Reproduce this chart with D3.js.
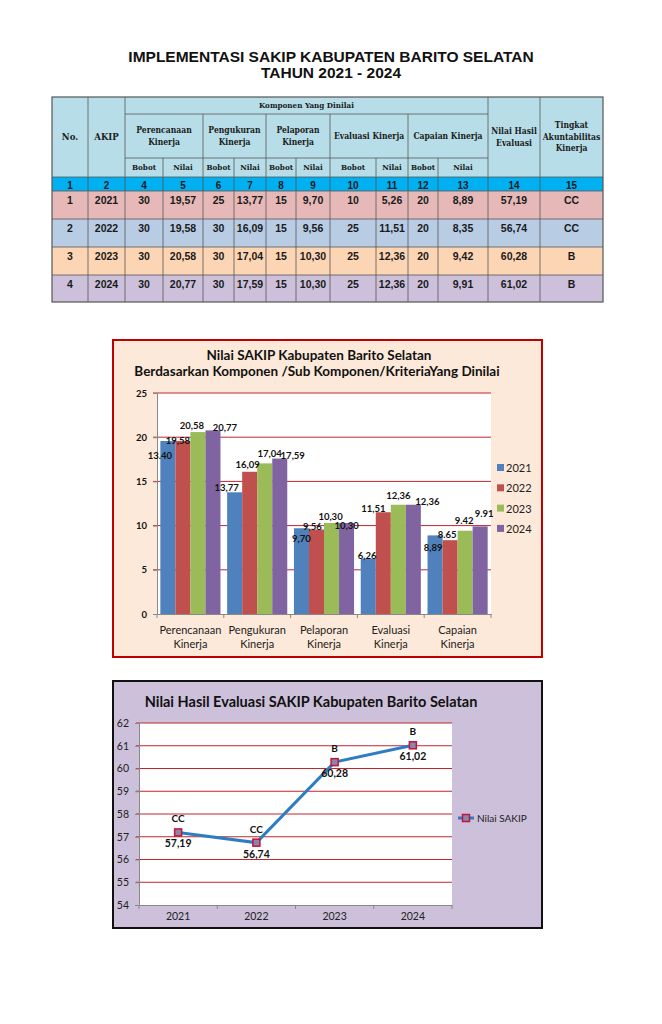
<!DOCTYPE html>
<html>
<head>
<meta charset="utf-8">
<script src="https://cdn.jsdelivr.net/npm/d3@7"></script>
<style>
  body { margin: 0; background: #fff; }
  svg { display: block; }
</style>
</head>
<body>
<div id="chart"></div>
<script>
// ---- data ----
const years = ["2021", "2022", "2023", "2024"];
const components = ["Perencanaan Kinerja", "Pengukuran Kinerja", "Pelaporan Kinerja", "Evaluasi Kinerja", "Capaian Kinerja"];
const bobot = [[30, 25, 15, 10, 20], [30, 30, 15, 25, 20], [30, 30, 15, 25, 20], [30, 30, 15, 25, 20]];
const nilai = [["19,57", "13,77", "9,70", "5,26", "8,89"], ["19,58", "16,09", "9,56", "11,51", "8,35"],
               ["20,58", "17,04", "10,30", "12,36", "9,42"], ["20,77", "17,59", "10,30", "12,36", "9,91"]];
const nilaiHasilText = ["57,19", "56,74", "60,28", "61,02"];
const tingkat = ["CC", "CC", "B", "B"];
const colIndex = ["1", "2", "4", "5", "6", "7", "8", "9", "10", "11", "12", "13", "14", "15"];

// bar chart series (one per year, values per component)
const bar2021 = [19.57, 13.77, 9.70, 6.26, 8.89];
const bar2022 = [19.58, 16.09, 9.56, 11.51, 8.35];
const bar2023 = [20.58, 17.04, 10.30, 12.36, 9.42];
const bar2024 = [20.77, 17.59, 10.30, 12.36, 9.91];
const barLabels2021 = ["13.40", "13,77", "9,70", "6,26", "8,89"];
const barLabels2022 = ["19,58", "16,09", "9,56", "11,51", "8.65"];
const barLabels2023 = ["20,58", "17,04", "10,30", "12,36", "9.42"];
const barLabels2024 = ["20,77", "17,59", "10,30", "12,36", "9.91"];
const barTicks = [0, 5, 10, 15, 20, 25];

// line chart
const nilaiSakip = [57.19, 56.74, 60.28, 61.02];
const lineTicks = [54, 55, 56, 57, 58, 59, 60, 61, 62];

const seriesColors = ["#4f81bd", "#c0504d", "#9bbb59", "#8064a2"];
const font = "Lato, 'Open Sans', sans-serif";

const svg = d3.select("#chart").append("svg").attr("width", 662).attr("height", 1024);
svg.append("rect").attr("width", 662).attr("height", 1024).attr("fill", "#fff");

// ---- title ----
const title = svg.append("text").attr("text-anchor", "middle").attr("font-family", "'Liberation Sans', Arial, sans-serif")
  .attr("font-weight", 700).attr("font-size", 15.5).attr("fill", "#111");
title.append("tspan").attr("x", 331).attr("y", 62).text("IMPLEMENTASI SAKIP KABUPATEN BARITO SELATAN");
title.append("tspan").attr("x", 331).attr("y", 78).text("TAHUN 2021 - 2024");

// ---- table ----
const colX = [52, 88, 125, 163, 203, 234, 266, 296, 330, 376, 408, 438, 488, 540, 603];
const rowY = [97, 114, 158, 177, 191, 219, 247, 275, 302];
const rowFills = ["#e6b9b8", "#b8cce4", "#fcd5b4", "#ccc0da"];
const headFont = "'DejaVu Serif Condensed', 'DejaVu Serif', serif";
const numFont = "'Liberation Sans Narrow', 'Liberation Sans', sans-serif";
const tbl = svg.append("g");

// header background
tbl.append("rect").attr("x", colX[0]).attr("y", rowY[0]).attr("width", colX[14] - colX[0]).attr("height", rowY[3] - rowY[0]).attr("fill", "#b7dee8");
tbl.append("rect").attr("x", colX[0]).attr("y", rowY[3]).attr("width", colX[14] - colX[0]).attr("height", rowY[4] - rowY[3]).attr("fill", "#00b0f0");
tbl.selectAll("rect.row").data(years).join("rect").attr("class", "row")
  .attr("x", colX[0]).attr("y", (d, i) => rowY[4 + i]).attr("width", colX[14] - colX[0])
  .attr("height", (d, i) => rowY[5 + i] - rowY[4 + i]).attr("fill", (d, i) => rowFills[i]);

const line = (x1, y1, x2, y2) => tbl.append("line").attr("x1", x1).attr("y1", y1).attr("x2", x2).attr("y2", y2)
  .attr("stroke", "#555").attr("stroke-width", 0.8);
// horizontal lines
line(colX[2], rowY[1], colX[12], rowY[1]);
line(colX[2], rowY[2], colX[12], rowY[2]);
for (let r = 3; r < 8; r++) line(colX[0], rowY[r], colX[14], rowY[r]);
// vertical lines
[1, 2, 12, 13].forEach(c => line(colX[c], rowY[0], colX[c], rowY[8]));
[4, 6, 8, 10].forEach(c => line(colX[c], rowY[1], colX[c], rowY[8]));
[3, 5, 7, 9, 11].forEach(c => line(colX[c], rowY[2], colX[c], rowY[8]));
tbl.append("rect").attr("x", colX[0]).attr("y", rowY[0]).attr("width", colX[14] - colX[0]).attr("height", rowY[8] - rowY[0])
  .attr("fill", "none").attr("stroke", "#555").attr("stroke-width", 1.2);

function cellText(lines, cx, cy, family, size) {
  const t = tbl.append("text").attr("text-anchor", "middle").attr("font-family", family)
    .attr("font-weight", 700).attr("font-size", size).attr("fill", "#1a1a1a");
  const lh = size + 3;
  lines.forEach((s, k) => t.append("tspan").attr("x", cx).attr("y", cy + (k - (lines.length - 1) / 2) * lh + size * 0.35).text(s));
}
const mid = (a, b) => (a + b) / 2;
cellText(["No."], mid(colX[0], colX[1]), mid(rowY[0], rowY[3]), headFont, 9.5);
cellText(["AKIP"], mid(colX[1], colX[2]), mid(rowY[0], rowY[3]), headFont, 9.5);
cellText(["Komponen Yang Dinilai"], mid(colX[2], colX[12]), mid(rowY[0], rowY[1]), headFont, 8);
components.forEach((c, i) => {
  const a = colX[2 + 2 * i], b = colX[4 + 2 * i];
  const parts = i >= 3 ? [c] : c.split(" ");
  cellText(parts, mid(a, b), mid(rowY[1], rowY[2]), headFont, 8.5);
  cellText(["Bobot"], mid(a, colX[3 + 2 * i]), mid(rowY[2], rowY[3]), headFont, 8);
  cellText(["Nilai"], mid(colX[3 + 2 * i], b), mid(rowY[2], rowY[3]), headFont, 8);
});
cellText(["Nilai Hasil", "Evaluasi"], mid(colX[12], colX[13]), mid(rowY[0], rowY[3]), headFont, 8.5);
cellText(["Tingkat", "Akuntabilitas", "Kinerja"], mid(colX[13], colX[14]), mid(rowY[0], rowY[3]), headFont, 8.5);
colIndex.forEach((s, c) => cellText([s], mid(colX[c], colX[c + 1]), mid(rowY[3], rowY[4]) + 1, numFont, 10));
years.forEach((y, r) => {
  const cy = rowY[4 + r] + 9;
  const vals = [String(r + 1), y];
  components.forEach((c, i) => { vals.push(String(bobot[r][i])); vals.push(nilai[r][i]); });
  vals.push(nilaiHasilText[r]); vals.push(tingkat[r]);
  vals.forEach((s, c) => cellText([s], mid(colX[c], colX[c + 1]), cy, numFont, 10.5));
});

// ---- bar chart ----
const bc = svg.append("g");
bc.append("rect").attr("x", 113).attr("y", 340).attr("width", 429).attr("height", 317)
  .attr("fill", "#fde9d9").attr("stroke", "#c00000").attr("stroke-width", 2);
const bTitle = bc.append("text").attr("text-anchor", "middle").attr("font-family", font).attr("font-weight", 700)
  .attr("font-size", 13.5).attr("fill", "#111");
bTitle.append("tspan").attr("x", 319).attr("y", 360).text("Nilai SAKIP Kabupaten Barito Selatan");
bTitle.append("tspan").attr("x", 317).attr("y", 376).text("Berdasarkan Komponen /Sub Komponen/KriteriaYang Dinilai");

const bx0 = 157, bx1 = 491, by0 = 614, by1 = 393;
const y = d3.scaleLinear().domain([0, 25]).range([by0, by1]);
const x0 = d3.scaleBand().domain(components).range([bx0, bx1]).paddingInner(0.1).paddingOuter(0.05);
const x1 = d3.scaleBand().domain(years).range([0, x0.bandwidth()]);
bc.append("rect").attr("x", bx0).attr("y", by1).attr("width", bx1 - bx0).attr("height", by0 - by1).attr("fill", "#fff");
bc.selectAll("line.grid").data(barTicks.filter(t => t > 0)).join("line").attr("class", "grid")
  .attr("x1", bx0 - 4).attr("x2", bx1).attr("y1", d => y(d)).attr("y2", d => y(d))
  .attr("stroke", "#c0262c").attr("stroke-width", 1);

const barSeries = [bar2021, bar2022, bar2023, bar2024];
const barLabelSeries = [barLabels2021, barLabels2022, barLabels2023, barLabels2024];
const bars = [];
components.forEach((c, i) => years.forEach((yr, j) => bars.push({ c, yr, j, i, v: barSeries[j][i], label: barLabelSeries[j][i] })));
bc.selectAll("rect.bar").data(bars).join("rect").attr("class", "bar")
  .attr("x", d => x0(d.c) + x1(d.yr)).attr("y", d => y(d.v))
  .attr("width", x1.bandwidth()).attr("height", d => by0 - y(d.v)).attr("fill", d => seriesColors[d.j]);

// y axis
const yAxis = bc.append("g").attr("transform", `translate(${bx0},0)`)
  .call(d3.axisLeft(y).tickValues(barTicks).tickSize(4).tickPadding(6));
yAxis.select(".domain").attr("stroke", "#888");
yAxis.selectAll(".tick line").attr("stroke", "#888");
yAxis.selectAll("text").attr("font-family", font).attr("font-weight", 700).attr("font-size", 9.5).attr("fill", "#111");
// x axis
const xAxis = bc.append("g").attr("transform", `translate(0,${by0})`)
  .call(d3.axisBottom(x0).tickSize(0).tickFormat(""));
xAxis.select(".domain").attr("stroke", "#888");
bc.selectAll("line.xtick").data(components.concat(["end"])).join("line").attr("class", "xtick")
  .attr("x1", (d, i) => bx0 + x0.step() * i).attr("x2", (d, i) => bx0 + x0.step() * i)
  .attr("y1", by0).attr("y2", by0 + 4).attr("stroke", "#888");
components.forEach(c => {
  const t = bc.append("text").attr("text-anchor", "middle").attr("font-family", font).attr("font-size", 11).attr("fill", "#222");
  c.split(" ").forEach((s, k) => t.append("tspan").attr("x", x0(c) + x0.bandwidth() / 2).attr("y", 634 + k * 14).text(s));
});

// data labels (nudged as placed in the original)
const labelNudge = [
  [[-8, 14], [-5, 0], [-6, -7], [12, -3]],
  [[-8, -5], [-2, -7], [5, -10], [13, -3]],
  [[0, 10], [-4, -3], [-1, -6], [0, 3]],
  [[-1, -3], [-10, -4], [0, -9], [14, -3]],
  [[-2, 12], [-3, -6], [-1, -10], [4, -13]]
];
bc.selectAll("text.blabel").data(bars).join("text").attr("class", "blabel")
  .attr("x", d => x0(d.c) + x1(d.yr) + x1.bandwidth() / 2 + labelNudge[d.i][d.j][0])
  .attr("y", d => y(d.v) + labelNudge[d.i][d.j][1] + 3.5)
  .attr("text-anchor", "middle").attr("font-family", font).attr("font-weight", 700).attr("font-size", 9.5)
  .attr("fill", "#111").text(d => d.label);

// legend
const lg = bc.selectAll("g.leg").data(years).join("g").attr("class", "leg")
  .attr("transform", (d, i) => `translate(497,${468 + i * 20.3})`);
lg.append("rect").attr("x", 0).attr("y", -4).attr("width", 7).attr("height", 7).attr("fill", (d, i) => seriesColors[i]);
lg.append("text").attr("x", 9).attr("y", 4).attr("font-family", font).attr("font-size", 11).attr("fill", "#222").text(d => d);

// ---- line chart ----
const lc = svg.append("g");
lc.append("rect").attr("x", 113).attr("y", 681).attr("width", 429).attr("height", 247)
  .attr("fill", "#ccc0da").attr("stroke", "#111").attr("stroke-width", 2);
lc.append("text").attr("x", 311).attr("y", 707).attr("text-anchor", "middle").attr("font-family", font)
  .attr("font-weight", 700).attr("font-size", 14.5).attr("fill", "#111").text("Nilai Hasil Evaluasi SAKIP Kabupaten Barito Selatan");

const lx0 = 139, lx1 = 452, ly0 = 905, ly1 = 723;
const ly = d3.scaleLinear().domain([54, 62]).range([ly0, ly1]);
const lx = d3.scaleBand().domain(years).range([lx0, lx1]);
lc.append("rect").attr("x", lx0).attr("y", ly1).attr("width", lx1 - lx0).attr("height", ly0 - ly1).attr("fill", "#fff");
lc.selectAll("line.grid").data(lineTicks.filter(t => t > 54)).join("line").attr("class", "grid")
  .attr("x1", lx0 - 3).attr("x2", lx1).attr("y1", d => ly(d)).attr("y2", d => ly(d))
  .attr("stroke", "#c0262c").attr("stroke-width", 1);
const lyAxis = lc.append("g").attr("transform", `translate(${lx0},0)`)
  .call(d3.axisLeft(ly).tickValues(lineTicks).tickSize(4).tickPadding(6));
lyAxis.select(".domain").attr("stroke", "#888");
lyAxis.selectAll(".tick line").attr("stroke", "#888");
lyAxis.selectAll("text").attr("font-family", font).attr("font-size", 10.5).attr("fill", "#222");
const lxAxis = lc.append("g").attr("transform", `translate(0,${ly0})`)
  .call(d3.axisBottom(lx).tickSize(0).tickPadding(8));
lxAxis.select(".domain").attr("stroke", "#888");
lxAxis.selectAll("text").attr("font-family", font).attr("font-size", 10.5).attr("fill", "#222");
lc.selectAll("line.xtick").data(years.concat(["end"])).join("line").attr("class", "xtick")
  .attr("x1", (d, i) => lx0 + lx.step() * i).attr("x2", (d, i) => lx0 + lx.step() * i)
  .attr("y1", ly0).attr("y2", ly0 + 4).attr("stroke", "#888");

const pts = years.map((yr, i) => ({ yr, v: nilaiSakip[i], grade: tingkat[i], txt: nilaiHasilText[i] }));
const cx = d => lx(d.yr) + lx.bandwidth() / 2;
lc.append("path").datum(pts).attr("fill", "none").attr("stroke", "#2e7dc4").attr("stroke-width", 3)
  .attr("d", d3.line().x(cx).y(d => ly(d.v)));
lc.selectAll("rect.mk").data(pts).join("rect").attr("class", "mk")
  .attr("x", d => cx(d) - 3.5).attr("y", d => ly(d.v) - 3.5).attr("width", 7).attr("height", 7)
  .attr("fill", "#8a86a8").attr("stroke", "#c0143c").attr("stroke-width", 1.5);
lc.selectAll("text.grade").data(pts).join("text").attr("class", "grade")
  .attr("x", cx).attr("y", d => ly(d.v) - 10).attr("text-anchor", "middle").attr("font-family", font)
  .attr("font-weight", 700).attr("font-size", 10).attr("fill", "#111").text(d => d.grade);
lc.selectAll("text.val").data(pts).join("text").attr("class", "val")
  .attr("x", cx).attr("y", d => ly(d.v) + 15).attr("text-anchor", "middle").attr("font-family", font)
  .attr("font-weight", 700).attr("font-size", 10.5).attr("fill", "#111").text(d => d.txt);

// legend
const ll = lc.append("g").attr("transform", "translate(458,818)");
ll.append("line").attr("x1", 0).attr("x2", 16).attr("stroke", "#2e7dc4").attr("stroke-width", 3);
ll.append("rect").attr("x", 4.5).attr("y", -3.5).attr("width", 7).attr("height", 7)
  .attr("fill", "#8a86a8").attr("stroke", "#c0143c").attr("stroke-width", 1.5);
ll.append("text").attr("x", 19).attr("y", 3.5).attr("font-family", font).attr("font-size", 10).attr("fill", "#222").text("Nilai SAKIP");
</script>
</body>
</html>
